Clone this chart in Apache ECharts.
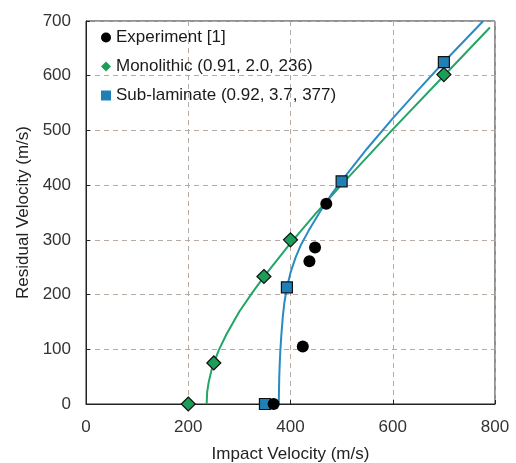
<!DOCTYPE html>
<html>
<head>
<meta charset="utf-8">
<script src="https://cdn.jsdelivr.net/npm/echarts@6/dist/echarts.min.js"></script>
<style>html,body{margin:0;padding:0;background:#fff}#c{width:516px;height:463px}</style>
</head>
<body>
<div id="c"></div>
<script>
// Data
const experiment = [[367,0],[424,105],[437,261],[448,286],[470,366]];
const monolithicPts = [[200,0],[250,75],[348,233],[400,300],[700,602]];
const sublaminatePts = [[350,0],[393,213],[500,407],[700,625]];
const monolithicCurve = [[236,0],[237,22],[238,28],[240,40],[245,60],[250,75],[260,99],[275,128],[300,169],[325,203],[350,235],[400,294],[450,349],[500,401],[600,502],[700,600],[790,688]];
const sublaminateCurve = [[377,0],[378,50],[379,75],[380,95],[382,125],[385,160],[388,185],[393,213],[400,240],[410,268],[420,290],[435,316],[458,352],[480,383],[500,408],[550,467],[600,522],[650,574],[700,625],[777,700]];
const legendNames = ['Experiment [1]','Monolithic (0.91, 2.0, 236)','Sub-laminate (0.92, 3.7, 377)'];

const font = 'Liberation Sans, Arial, sans-serif';
const green = '#22a566', blue = '#2a8ac2';
const chart = echarts.init(document.getElementById('c'));
chart.setOption({
  animation: false,
  grid: {left: 86, right: 21, top: 21, bottom: 59, outerBoundsMode: 'none', containLabel: false,
         show: true, borderColor: '#222', borderWidth: 1},
  legend: {
    orient: 'vertical', left: 96, top: 24, itemGap: 12,
    itemWidth: 10, itemHeight: 10, itemStyle: {borderWidth: 0},
    textStyle: {fontFamily: font, fontSize: 17, color: '#1a1a1a'},
    data: [
      {name: legendNames[0], icon: 'circle'},
      {name: legendNames[1], icon: 'diamond'},
      {name: legendNames[2], icon: 'rect'}
    ]
  },
  xAxis: {
    type: 'value', min: 0, max: 800, interval: 200,
    name: 'Impact Velocity (m/s)', nameLocation: 'middle', nameGap: 42,
    nameTextStyle: {fontFamily: font, fontSize: 17, color: '#222'},
    axisLine: {lineStyle: {color: '#222', width: 1}},
    axisTick: {inside: true, length: 4, lineStyle: {color: '#222'}},
    axisLabel: {fontFamily: font, fontSize: 17, color: '#333', margin: 15},
    splitLine: {show: true, lineStyle: {type: [5,4], color: '#b5aba3', width: 1}}
  },
  yAxis: {
    type: 'value', min: 0, max: 700, interval: 100,
    name: 'Residual Velocity (m/s)', nameLocation: 'middle', nameGap: 51,
    nameTextStyle: {fontFamily: font, fontSize: 17, color: '#222'},
    axisLine: {show: true, lineStyle: {color: '#222', width: 1}},
    axisTick: {show: true, inside: true, length: 4, lineStyle: {color: '#222'}},
    axisLabel: {fontFamily: font, fontSize: 17, color: '#333', margin: 15},
    splitLine: {show: true, lineStyle: {type: [5,4], color: '#b5aba3', width: 1}}
  },
  series: [
    {type: 'line', name: 'monoCurve', data: monolithicCurve, showSymbol: false, smooth: false,
     lineStyle: {color: green, width: 2}, z: 2},
    {type: 'line', name: 'subCurve', data: sublaminateCurve, showSymbol: false, smooth: false,
     lineStyle: {color: blue, width: 2}, z: 2},
    {type: 'scatter', name: legendNames[0], data: experiment, symbol: 'circle', symbolSize: 12,
     itemStyle: {color: '#000', opacity: 1}, z: 5},
    {type: 'scatter', name: legendNames[1], data: monolithicPts, symbol: 'diamond', symbolSize: [14,14],
     itemStyle: {color: '#1c9e58', borderColor: '#111', borderWidth: 1.2, opacity: 1}, z: 4},
    {type: 'scatter', name: legendNames[2], data: sublaminatePts, symbol: 'rect', symbolSize: 11,
     itemStyle: {color: '#1f80b8', borderColor: '#111', borderWidth: 1.2, opacity: 1}, z: 4}
  ]
});
</script>
</body>
</html>
